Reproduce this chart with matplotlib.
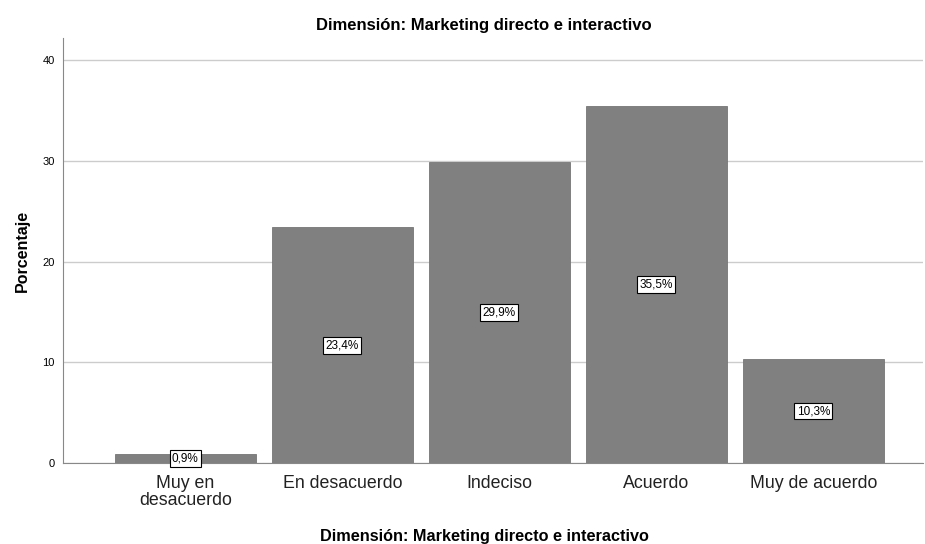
import matplotlib.pyplot as plt
import numpy as np

plt.rcParams['font.family'] = ['Liberation Sans', 'DejaVu Sans']

categorias = ["Muy en\ndesacuerdo", "En desacuerdo", "Indeciso", "Acuerdo", "Muy de acuerdo"]
porcentajes = [0.9, 23.4, 29.9, 35.5, 10.3]
etiquetas = ["0,9%", "23,4%", "29,9%", "35,5%", "10,3%"]
titulo = "Dimensión: Marketing directo e interactivo"

fig = plt.figure(figsize=(9.25, 5.44), dpi=100)
ax = fig.add_axes([0.068, 0.149, 0.93, 0.781])

x = np.arange(len(categorias))
ax.bar(x, porcentajes, width=0.895, color="#808080", edgecolor="#767676", linewidth=0.6, zorder=2)

for xi, v, t in zip(x, porcentajes, etiquetas):
    ax.text(xi, v / 2, t, ha="center", va="center", fontsize=8.5, zorder=3,
            bbox=dict(boxstyle="square,pad=0.2", facecolor="white", edgecolor="black", linewidth=0.8))

ax.set_xlim(-0.78, 4.7)
ax.set_ylim(0, 42.2)
ax.set_yticks([0, 10, 20, 30, 40])
ax.set_xticks(x)
ax.set_xticklabels(categorias, fontsize=12.8, color="#222222", linespacing=1.0)
ax.tick_params(axis="y", length=0, labelsize=8, pad=6)
ax.tick_params(axis="x", length=0, pad=9)
ax.yaxis.grid(True, color="#cccccc", linewidth=1, zorder=0)
ax.set_axisbelow(True)

for s in ["top", "right"]:
    ax.spines[s].set_visible(False)
ax.spines["left"].set_color("#888888")
ax.spines["bottom"].set_color("#888888")

ax.set_ylabel("Porcentaje", fontsize=11.5, fontweight="bold", labelpad=9)
ax.set_xlabel(titulo, fontsize=11.7, fontweight="bold", labelpad=14, x=0.4895)
ax.set_title(titulo, fontsize=12, fontweight="bold", pad=6, x=0.4895)

fig.savefig("out.png", dpi=100)
